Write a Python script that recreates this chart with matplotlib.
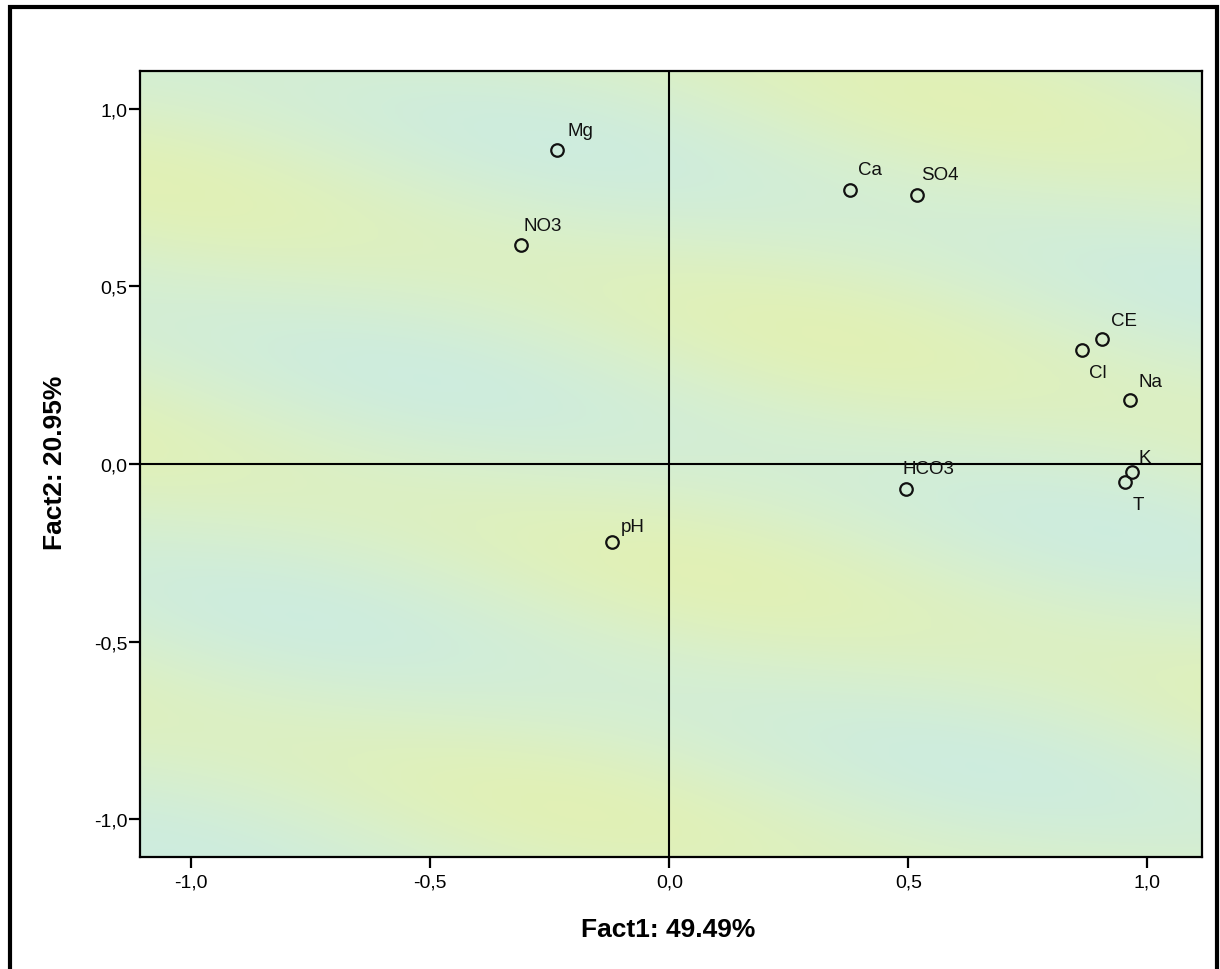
import numpy as np
import matplotlib
matplotlib.use("Agg")
import matplotlib.pyplot as plt
from matplotlib.patches import Rectangle
from matplotlib.colors import LinearSegmentedColormap

plt.rcParams['font.family'] = ['Liberation Sans', 'DejaVu Sans']

# factor loadings (Fact1, Fact2) per variable
variables = ["Mg", "NO3", "Ca", "SO4", "CE", "Cl", "Na", "K", "T", "HCO3", "pH"]
fact1 = [-0.234, -0.310, 0.377, 0.517, 0.904, 0.864, 0.964, 0.967, 0.952, 0.496, -0.119]
fact2 = [0.884, 0.616, 0.771, 0.757, 0.353, 0.322, 0.181, -0.023, -0.051, -0.071, -0.220]

# label offsets in points (dx, dy, vertical alignment)
label_offsets = {
    "Mg": (7, 11, "baseline"), "NO3": (2, 11, "baseline"), "Ca": (6, 12, "baseline"),
    "SO4": (3, 12, "baseline"), "CE": (7, 10, "baseline"), "Cl": (5, -10, "top"),
    "Na": (6, 10, "baseline"), "K": (5, 7, "baseline"), "T": (6, -10, "top"),
    "HCO3": (-3, 12, "baseline"), "pH": (6, 8, "baseline"),
}

tick_values = [-1.0, -0.5, 0.0, 0.5, 1.0]
tick_labels = ["-1,0", "-0,5", "0,0", "0,5", "1,0"]

xlim = (-1.107, 1.114)
ylim = (-1.107, 1.107)

fig = plt.figure(figsize=(12.2, 9.7), dpi=100)
ax = fig.add_axes([0.11475, 0.11546, 0.8705, 0.81031])

# soft banded background of the plot area
gx = np.linspace(xlim[0], xlim[1], 300)
gy = np.linspace(ylim[0], ylim[1], 300)
xx, yy = np.meshgrid(gx, gy)
band = 0.5 + 0.35 * np.sin(2 * np.pi * (yy + 0.3 * xx) / 0.75 - 2.28) \
    + 0.15 * np.sin(2 * np.pi * (xx - 0.4 * yy) / 1.6 + 0.8)
bg_cmap = LinearSegmentedColormap.from_list("bg", ["#cdecdf", "#d8efcc", "#e2f1b4"])
ax.imshow(band, extent=(xlim[0], xlim[1], ylim[0], ylim[1]), origin="lower",
          cmap=bg_cmap, aspect="auto", zorder=0, interpolation="bilinear",
          vmin=-0.05, vmax=1.05)

ax.axhline(0, color="black", lw=1.5, zorder=1)
ax.axvline(0, color="black", lw=1.5, zorder=1)

ax.plot(fact1, fact2, linestyle="none", marker="o", markersize=9,
        markerfacecolor="none", markeredgecolor="#111111", markeredgewidth=1.6, zorder=3)

for name, x, y in zip(variables, fact1, fact2):
    dx, dy, va = label_offsets[name]
    ax.annotate(name, (x, y), xytext=(dx, dy), textcoords="offset points",
                ha="left", va=va, fontsize=13.5, color="#111111", zorder=4)

ax.set_xlim(*xlim)
ax.set_ylim(*ylim)
ax.set_xticks(tick_values)
ax.set_xticklabels(tick_labels)
ax.set_yticks(tick_values)
ax.set_yticklabels(tick_labels)
ax.tick_params(direction="out", length=8, width=1.6, labelsize=14, color="black")
ax.tick_params(axis="x", pad=4)
ax.tick_params(axis="y", pad=1)
for sp in ax.spines.values():
    sp.set_linewidth(1.6)
    sp.set_color("black")

fig.text(0.548, 1 - 930 / 970, "Fact1: 49.49%", ha="center", va="center",
         fontsize=19, fontweight="bold")
fig.text(55 / 1220, 1 - 463 / 970, "Fact2: 20.95%", ha="center", va="center",
         rotation=90, fontsize=19, fontweight="bold")

# outer border around the whole figure
fig.patches.append(Rectangle((10 / 1220, -0.05), 1207 / 1220, 1.05 - 8 / 970,
                             transform=fig.transFigure, fill=False,
                             edgecolor="black", linewidth=3, clip_on=False))

fig.savefig("out.png", dpi=100, facecolor="white")
